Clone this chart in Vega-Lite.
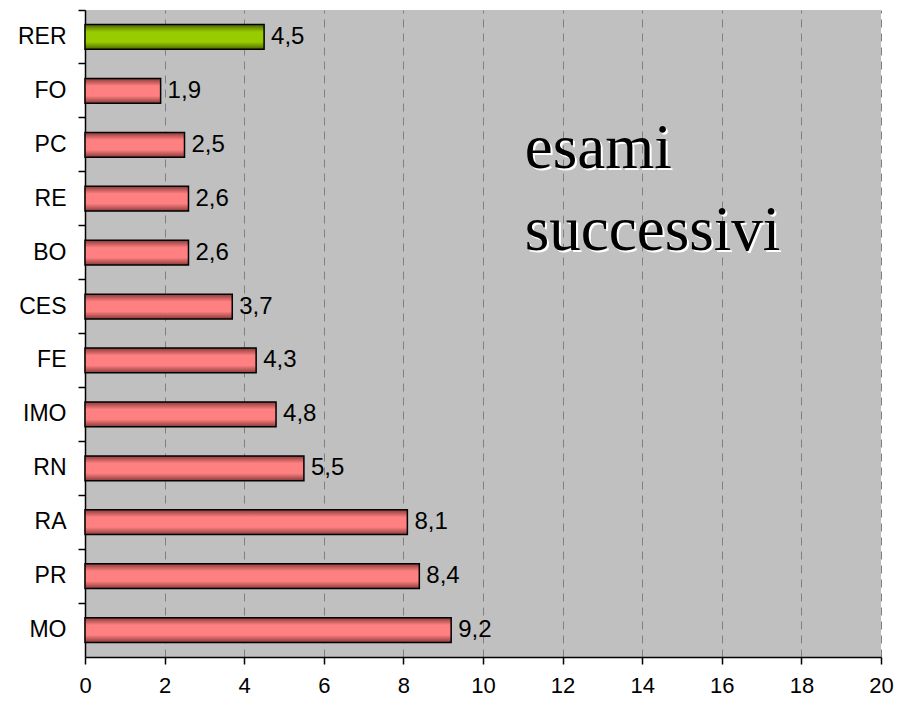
{
  "$schema": "https://vega.github.io/schema/vega-lite/v6.json",
  "width": 796,
  "height": 647,
  "autosize": {"type": "none"},
  "padding": {"left": 85, "top": 10, "right": 18, "bottom": 45},
  "background": "white",
  "config": {
    "view": {"fill": "#C0C0C0", "stroke": null},
    "locale": {"number": {"decimal": ",", "thousands": ".", "grouping": [3], "currency": ["€", ""]}},
    "font": "Liberation Sans"
  },
  "datasets": {
    "bars": [
      {"cat": "RER", "value": 4.5},
      {"cat": "FO", "value": 1.9},
      {"cat": "PC", "value": 2.5},
      {"cat": "RE", "value": 2.6},
      {"cat": "BO", "value": 2.6},
      {"cat": "CES", "value": 3.7},
      {"cat": "FE", "value": 4.3},
      {"cat": "IMO", "value": 4.8},
      {"cat": "RN", "value": 5.5},
      {"cat": "RA", "value": 8.1},
      {"cat": "PR", "value": 8.4},
      {"cat": "MO", "value": 9.2}
    ],
    "notes": [
      {"label": "esami", "cat": "PC", "x": 11.05},
      {"label": "successivi", "cat": "BO", "x": 11.05}
    ]
  },
  "encoding": {
    "y": {
      "field": "cat",
      "type": "nominal",
      "sort": ["RER", "FO", "PC", "RE", "BO", "CES", "FE", "IMO", "RN", "RA", "PR", "MO"],
      "scale": {"paddingInner": 0, "paddingOuter": 0},
      "axis": {
        "title": null,
        "bandPosition": 0,
        "domainColor": "black",
        "domainWidth": 1.5,
        "tickColor": "black",
        "tickWidth": 1.5,
        "tickSize": 7,
        "labelFontSize": 23,
        "labelColor": "black",
        "labelPadding": 12,
        "grid": false
      }
    }
  },
  "layer": [
    {
      "data": {"name": "bars"},
      "mark": {"type": "bar", "height": {"band": 0.46}, "stroke": "black", "strokeWidth": 1.5},
      "encoding": {
        "x": {
          "field": "value",
          "type": "quantitative",
          "scale": {"domain": [0, 20]},
          "axis": {
            "title": null,
            "values": [0, 2, 4, 6, 8, 10, 12, 14, 16, 18, 20],
            "format": "d",
            "domainColor": "black",
            "domainWidth": 1.5,
            "tickColor": "black",
            "tickWidth": 1.5,
            "tickSize": 7,
            "labelFontSize": 22,
            "labelColor": "black",
            "labelPadding": 11,
            "labelFlush": false,
            "grid": true,
            "gridColor": "#808080",
            "gridDash": [8, 6],
            "gridWidth": 1
          }
        },
        "fill": {
          "condition": {
            "test": "datum.cat === 'RER'",
            "value": {
              "gradient": "linear", "x1": 0, "y1": 0, "x2": 0, "y2": 1,
              "stops": [
                {"offset": 0, "color": "#4d6600"},
                {"offset": 0.3, "color": "#99CC00"},
                {"offset": 0.7, "color": "#99CC00"},
                {"offset": 1, "color": "#4d6600"}
              ]
            }
          },
          "value": {
            "gradient": "linear", "x1": 0, "y1": 0, "x2": 0, "y2": 1,
            "stops": [
              {"offset": 0, "color": "#8a3a3a"},
              {"offset": 0.3, "color": "#FF8080"},
              {"offset": 0.7, "color": "#FF8080"},
              {"offset": 1, "color": "#8a3a3a"}
            ]
          }
        }
      }
    },
    {
      "data": {"name": "bars"},
      "mark": {"type": "text", "align": "left", "baseline": "middle", "dx": 7, "fontSize": 24, "color": "black"},
      "encoding": {
        "x": {"field": "value", "type": "quantitative"},
        "text": {"field": "value", "type": "quantitative", "format": ".1f"}
      }
    },
    {
      "data": {"name": "notes"},
      "transform": [{"filter": "datum.label === 'esami'"}],
      "layer": [
        {
          "mark": {"type": "text", "align": "left", "baseline": "alphabetic", "font": "Liberation Serif", "fontSize": 63, "color": "white", "dx": 2, "dy": 25},
          "encoding": {"x": {"field": "x", "type": "quantitative"}, "text": {"field": "label"}}
        },
        {
          "mark": {"type": "text", "align": "left", "baseline": "alphabetic", "font": "Liberation Serif", "fontSize": 63, "color": "black", "dy": 23},
          "encoding": {"x": {"field": "x", "type": "quantitative"}, "text": {"field": "label"}}
        }
      ]
    },
    {
      "data": {"name": "notes"},
      "transform": [{"filter": "datum.label === 'successivi'"}],
      "layer": [
        {
          "mark": {"type": "text", "align": "left", "baseline": "alphabetic", "font": "Liberation Serif", "fontSize": 63, "color": "white", "dx": 2, "dy": -1},
          "encoding": {"x": {"field": "x", "type": "quantitative"}, "text": {"field": "label"}}
        },
        {
          "mark": {"type": "text", "align": "left", "baseline": "alphabetic", "font": "Liberation Serif", "fontSize": 63, "color": "black", "dy": -3},
          "encoding": {"x": {"field": "x", "type": "quantitative"}, "text": {"field": "label"}}
        }
      ]
    }
  ]
}
